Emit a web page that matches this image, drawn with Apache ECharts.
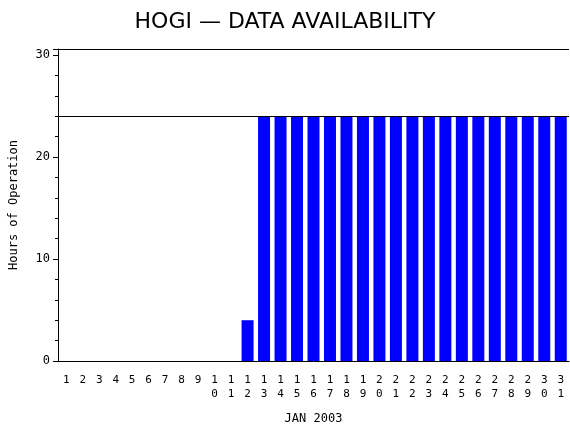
<!DOCTYPE html><html><head><meta charset="utf-8"><script src="https://cdn.jsdelivr.net/npm/echarts@6/dist/echarts.min.js"></script></head><body style="margin:0"><div id="c" style="width:570px;height:430px"></div><script>
const days=[];for(let i=1;i<=31;i++)days.push(String(i));
const hours=[0,0,0,0,0,0,0,0,0,0,0,4,24,24,24,24,24,24,24,24,24,24,24,24,24,24,24,24,24,24,24];
const yTicks=[0,10,20,30];
const ch=echarts.init(document.getElementById('c'));
ch.setOption({animation:false,
title:{text:'HOGI \u2014 DATA AVAILABILITY',left:'center',top:6,textStyle:{fontFamily:'DejaVu Sans',fontWeight:'normal',fontSize:22,color:'#000'}},
grid:{left:58,right:1,top:49,bottom:68},
xAxis:{type:'category',data:days,name:'JAN 2003',nameLocation:'middle',nameGap:52,nameTextStyle:{fontFamily:'DejaVu Sans Mono',fontSize:12,color:'#000'},
axisLine:{lineStyle:{color:'#000'}},axisTick:{show:false},
axisLabel:{interval:0,fontFamily:'DejaVu Sans Mono',fontSize:11,color:'#000',lineHeight:14,margin:12,formatter:v=>v.split('').join('\n')}},
yAxis:{type:'value',min:0,max:30.6,interval:10,name:'Hours of Operation',nameLocation:'middle',nameGap:38,nameTextStyle:{fontFamily:'DejaVu Sans Mono',fontSize:12,color:'#000'},
axisLine:{show:true,lineStyle:{color:'#000'}},axisTick:{show:true,length:5,lineStyle:{color:'#000'}},
minorTick:{show:true,splitNumber:5,length:3,lineStyle:{color:'#000'}},splitLine:{show:false},
axisLabel:{fontFamily:'DejaVu Sans Mono',fontSize:12,color:'#000',showMaxLabel:false,formatter:v=>yTicks.includes(v)?String(v):''}},
series:[{type:'bar',data:hours,barWidth:12,itemStyle:{color:'#0000ff'},
markLine:{silent:true,symbol:'none',label:{show:false},lineStyle:{color:'#000',type:'solid',width:1},data:[{yAxis:24}]}},
{type:'line',data:[],markLine:{silent:true,symbol:'none',label:{show:false},lineStyle:{color:'#000',type:'solid',width:1},data:[{yAxis:30.6}]}}]
});
</script></body></html>
